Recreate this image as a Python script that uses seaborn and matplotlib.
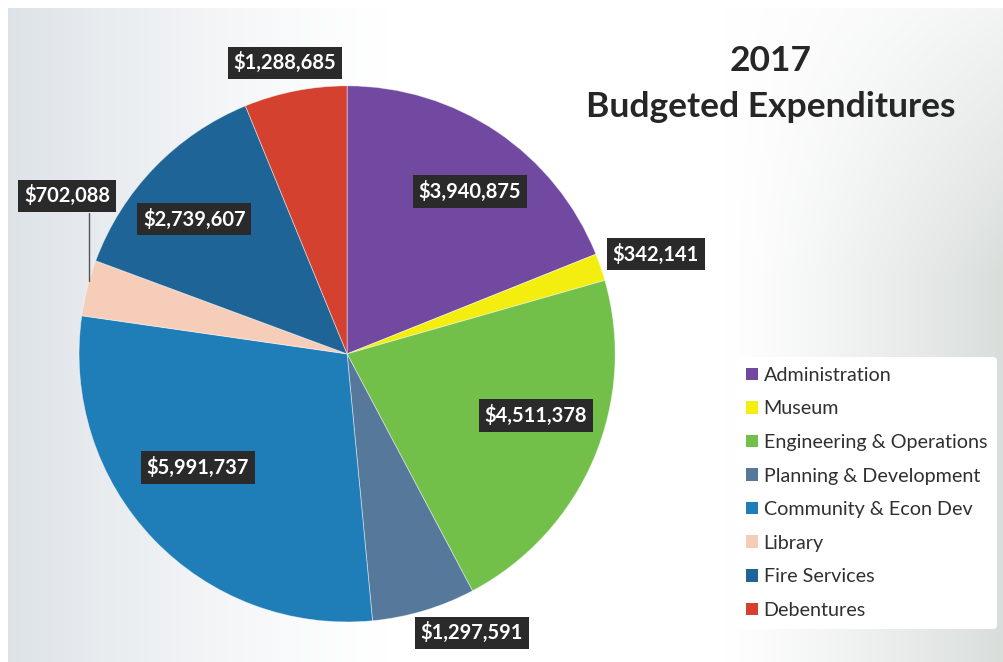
import numpy as np
import matplotlib
matplotlib.use("Agg")
import matplotlib.pyplot as plt
from matplotlib.patches import Patch
import seaborn as sns

# Budget categories and their 2017 amounts
categories = ["Administration", "Museum", "Engineering & Operations",
              "Planning & Development", "Community & Econ Dev", "Library",
              "Fire Services", "Debentures"]
amounts = [3940875, 342141, 4511378, 1297591, 5991737, 702088, 2739607, 1288685]
slice_colors = ["#7249A0", "#F4EE10", "#72C04A", "#56789A",
                "#1F7DB8", "#F6CDB8", "#1E6496", "#D5412F"]

# Where each value label sits: distance from centre (radius units) and an
# angular nudge (degrees) from the wedge's middle
label_radius = [0.76, 1.21, 0.74, 1.14, 0.70, 1.20, 0.76, 1.11]
label_shift = [-3.0, -1.0, 5.0, 7.4, -6.4, -15.2, 2.6, 0.9]

sns.set_theme(style="white")
plt.rcParams["font.family"] = ["Lato", "DejaVu Sans"]

fig = plt.figure(figsize=(10.04, 6.62), dpi=100)
fig.patch.set_facecolor("white")

# Soft paper-like background: bluish grey on the left, white centre, grey right
bg = fig.add_axes([0.008, 0.0, 0.992, 0.988], zorder=-10)
xs = np.linspace(0, 1, 400)
ys = np.linspace(0, 1, 300)
X, Y = np.meshgrid(xs, ys)
left = np.clip(1 - X / 0.38, 0, 1) ** 1.3
right = np.clip((X - 0.72) / 0.28, 0, 1) ** 1.2 * np.clip((Y - 0.05) / 0.6 + 0.4, 0, 1)
lo_col = np.array([0.87, 0.89, 0.91])
ri_col = np.array([0.85, 0.87, 0.86])
img = np.ones((300, 400, 3))
img = img * (1 - left[..., None]) + lo_col * left[..., None]
img = img * (1 - right[..., None]) + ri_col * right[..., None]
bg.imshow(img, aspect="auto", extent=[0, 1, 0, 1], origin="upper")
bg.axis("off")

# Pie
ax = fig.add_axes([0.0787, 0.0604, 0.534, 0.810])
wedges, _ = ax.pie(amounts, colors=slice_colors, startangle=90,
                   counterclock=False, radius=1.0,
                   wedgeprops=dict(linewidth=0.6, edgecolor=(1, 1, 1, 0.5)))
ax.set_xlim(-1, 1)
ax.set_ylim(-1, 1)
ax.set_aspect("equal")
ax.axis("off")

box = dict(boxstyle="square,pad=0.28", fc="#2A2A2A", ec="none")
label_pos = []
for w, val, r, d in zip(wedges, amounts, label_radius, label_shift):
    mid = np.deg2rad((w.theta1 + w.theta2) / 2 + d)
    x, y = r * np.cos(mid), r * np.sin(mid)
    label_pos.append((x, y))
    ax.text(x, y, f"${val:,}", ha="center", va="center", color="white",
            fontsize=14.5, fontweight="bold", bbox=box, clip_on=False, zorder=5)

# Leader line from the Library label down to its wedge
lx, ly = label_pos[5]
line_x = lx + 0.083
ax.plot([line_x, line_x], [ly - 0.064, np.sqrt(1 - line_x ** 2)],
        color="#555555", lw=1.0, clip_on=False, zorder=4)

# Title
fig.text(0.768, 1 - 61 / 662, "2017", ha="center", va="center",
         fontsize=25.5, fontweight="bold", color="#262626")
fig.text(0.768, 1 - 107 / 662, "Budgeted Expenditures", ha="center",
         va="center", fontsize=25.5, fontweight="bold", color="#262626")

# Legend
handles = [Patch(facecolor=c, edgecolor="none") for c in slice_colors]
leg = fig.legend(handles, categories, loc="upper left",
                 bbox_to_anchor=(0.733, 1 - 357 / 662), frameon=True,
                 fontsize=14.2, handlelength=0.6, handleheight=0.6,
                 handletextpad=0.3, labelspacing=0.84, borderpad=0.5,
                 borderaxespad=0)
leg.get_frame().set_facecolor("white")
leg.get_frame().set_edgecolor("none")
leg.get_frame().set_alpha(1)
for t in leg.get_texts():
    t.set_color("#303030")

fig.savefig("out.png", dpi=100, facecolor=fig.get_facecolor())
